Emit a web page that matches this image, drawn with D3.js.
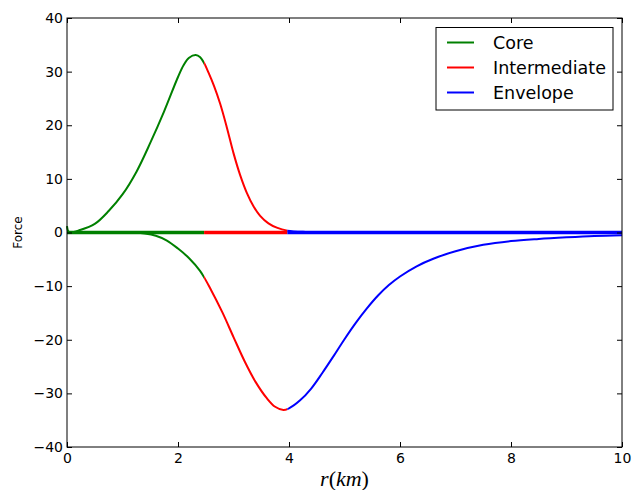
<!DOCTYPE html>
<html>
	<head>
		<meta charset="utf-8">
		<title>Force</title>
		<style>
			body { margin: 0; background: #fff; }
			text { font-family: "DejaVu Sans", sans-serif; fill: #000; }
			.curve { fill: none; stroke-width: 2px; stroke-linejoin: round; }
			.zero { fill: none; stroke-width: 3.5px; }
		</style>
	</head>
	<body>
		<svg class="chart"></svg>
		<script src="https://d3js.org/d3.v7.min.js"></script>
		<script>
			// region names, colours and where each one ends (r in km)
			var regions = ["Core", "Intermediate", "Envelope"];
			var regionColors = ["#008000", "#ff0000", "#0000ff"];
			var regionBounds = [0, 2.47, 3.97, 10];

			// upper (positive) force curve
			var upperR = [0, 0.04, 0.25, 0.5, 0.75, 1.0, 1.25, 1.5, 1.75, 2.0, 2.1, 2.2, 2.32, 2.4, 2.47, 2.55, 2.65, 2.76, 2.88, 3.0, 3.12, 3.24, 3.36, 3.48, 3.63, 3.78, 3.97, 4.3, 5, 10];
			var upperF = [1.2, 0.05, 0.5, 1.6, 4.0, 7.1, 11.3, 16.7, 22.6, 29.0, 31.2, 32.6, 33.1, 32.7, 31.6, 29.8, 27.3, 24.0, 19.6, 14.8, 10.7, 7.4, 4.9, 3.1, 1.7, 0.9, 0.35, 0.1, 0.03, 0];

			// lower (negative) force curve
			var lowerR = [0, 1.0, 1.2, 1.4, 1.6, 1.8, 2.0, 2.2, 2.4, 2.6, 2.8, 3.0, 3.2, 3.4, 3.6, 3.75, 3.9, 4.0, 4.2, 4.4, 4.6, 4.8, 5.0, 5.2, 5.4, 5.6, 5.8, 6.0, 6.3, 6.6, 7.0, 7.5, 8.0, 8.5, 9.0, 9.5, 10];
			var lowerF = [0, 0, -0.05, -0.2, -0.6, -1.5, -3.0, -4.8, -7.2, -10.8, -14.9, -19.5, -24.0, -27.9, -30.9, -32.5, -33.1, -32.8, -31.3, -29.1, -26.2, -23.1, -19.9, -16.9, -14.2, -11.8, -9.8, -8.2, -6.3, -4.9, -3.5, -2.3, -1.6, -1.2, -0.9, -0.65, -0.5];

			// flat line at zero
			var zeroR = [0, 10];
			var zeroF = [0, 0];

			var xTicks = [0, 2, 4, 6, 8, 10];
			var yTicks = [-40, -30, -20, -10, 0, 10, 20, 30, 40];

			var margin = {top: 18, right: 10, bottom: 43, left: 67},
				width = 632 - margin.left - margin.right,
				height = 490 - margin.top - margin.bottom;

			var svg = d3.select(".chart")
				.attr("width", 632)
				.attr("height", 490);
			var chart = svg.append("g")
				.attr("transform", "translate(" + margin.left + "," + margin.top + ")");

			var x = d3.scaleLinear().domain([0, 10]).range([0, width]);
			var y = d3.scaleLinear().domain([-40, 40]).range([height, 0]);

			// one clip strip per region so each curve stays smooth across the joins
			var defs = svg.append("defs");
			regions.forEach(function(name, k) {
				defs.append("clipPath")
					.attr("id", "clip" + k)
					.append("rect")
						.attr("x", x(regionBounds[k]) - (k == 0 ? 3 : 0))
						.attr("y", -5)
						.attr("width", x(regionBounds[k + 1]) - x(regionBounds[k]) + (k == 0 ? 3 : 0))
						.attr("height", height + 10);
			});

			var line = d3.line()
				.x(function(d) { return x(d[0]); })
				.y(function(d) { return y(d[1]); })
				.curve(d3.curveCatmullRom.alpha(0.5));

			function pts(rs, fs) {
				return rs.map(function(r, i) { return [r, fs[i]]; });
			}

			var plot = chart.append("g");
			[[zeroR, zeroF, "zero"], [upperR, upperF, "curve"], [lowerR, lowerF, "curve"]].forEach(function(c) {
				var d = line(pts(c[0], c[1]));
				plot.selectAll(null)
					.data(regionColors)
					.enter().append("path")
						.attr("class", c[2])
						.attr("clip-path", function(col, k) { return "url(#clip" + k + ")"; })
						.attr("stroke", function(col) { return col; })
						.attr("d", d);
			});

			// axes, ticks inside on all four sides
			var fmt = function(d) { return d < 0 ? "\u2212" + Math.abs(d) : String(d); };
			chart.append("g")
				.attr("transform", "translate(0," + height + ")")
				.call(d3.axisBottom(x).tickValues(xTicks).tickSizeInner(-5).tickSizeOuter(0).tickPadding(6).tickFormat(fmt));
			chart.append("g")
				.call(d3.axisTop(x).tickValues(xTicks).tickSizeInner(-5).tickSizeOuter(0).tickFormat(""));
			chart.append("g")
				.call(d3.axisLeft(y).tickValues(yTicks).tickSizeInner(-5).tickSizeOuter(0).tickPadding(4).tickFormat(fmt));
			chart.append("g")
				.attr("transform", "translate(" + width + ",0)")
				.call(d3.axisRight(y).tickValues(yTicks).tickSizeInner(-5).tickSizeOuter(0).tickFormat(""));
			chart.selectAll(".domain").remove();
			chart.selectAll(".tick line").attr("stroke", "#000");
			chart.selectAll(".tick text")
				.style("font-family", "DejaVu Sans, sans-serif")
				.style("font-size", "14px");

			chart.append("rect")
				.attr("width", width)
				.attr("height", height)
				.attr("fill", "none")
				.attr("stroke", "#000")
				.attr("stroke-width", 1);

			// axis labels
			var xl = svg.append("text")
				.attr("x", margin.left + width / 2)
				.attr("y", 486)
				.attr("text-anchor", "middle")
				.style("font-family", "Liberation Serif, serif")
				.style("font-size", "22px");
			xl.append("tspan").style("font-style", "italic").text("r");
			xl.append("tspan").text("(");
			xl.append("tspan").style("font-style", "italic").text("km");
			xl.append("tspan").text(")");

			svg.append("text")
				.attr("transform", "translate(22," + (margin.top + height / 2) + ") rotate(-90)")
				.attr("text-anchor", "middle")
				.style("font-size", "12px")
				.text("Force");

			// legend
			var legend = svg.append("g").attr("transform", "translate(436,27.5)");
			legend.append("rect")
				.attr("width", 177)
				.attr("height", 82.5)
				.attr("fill", "#fff")
				.attr("stroke", "#000")
				.attr("stroke-width", 1);
			var item = legend.selectAll("g.item")
				.data(regions)
				.enter().append("g")
					.attr("class", "item")
					.attr("transform", function(d, i) { return "translate(0," + (15 + i * 25) + ")"; });
			item.append("line")
				.attr("x1", 11).attr("x2", 38)
				.attr("stroke", function(d, i) { return regionColors[i]; })
				.attr("stroke-width", 2);
			item.append("text")
				.attr("x", 57)
				.attr("y", 6)
				.style("font-size", "17.5px")
				.text(function(d) { return d; });
		</script>
	</body>
</html>
